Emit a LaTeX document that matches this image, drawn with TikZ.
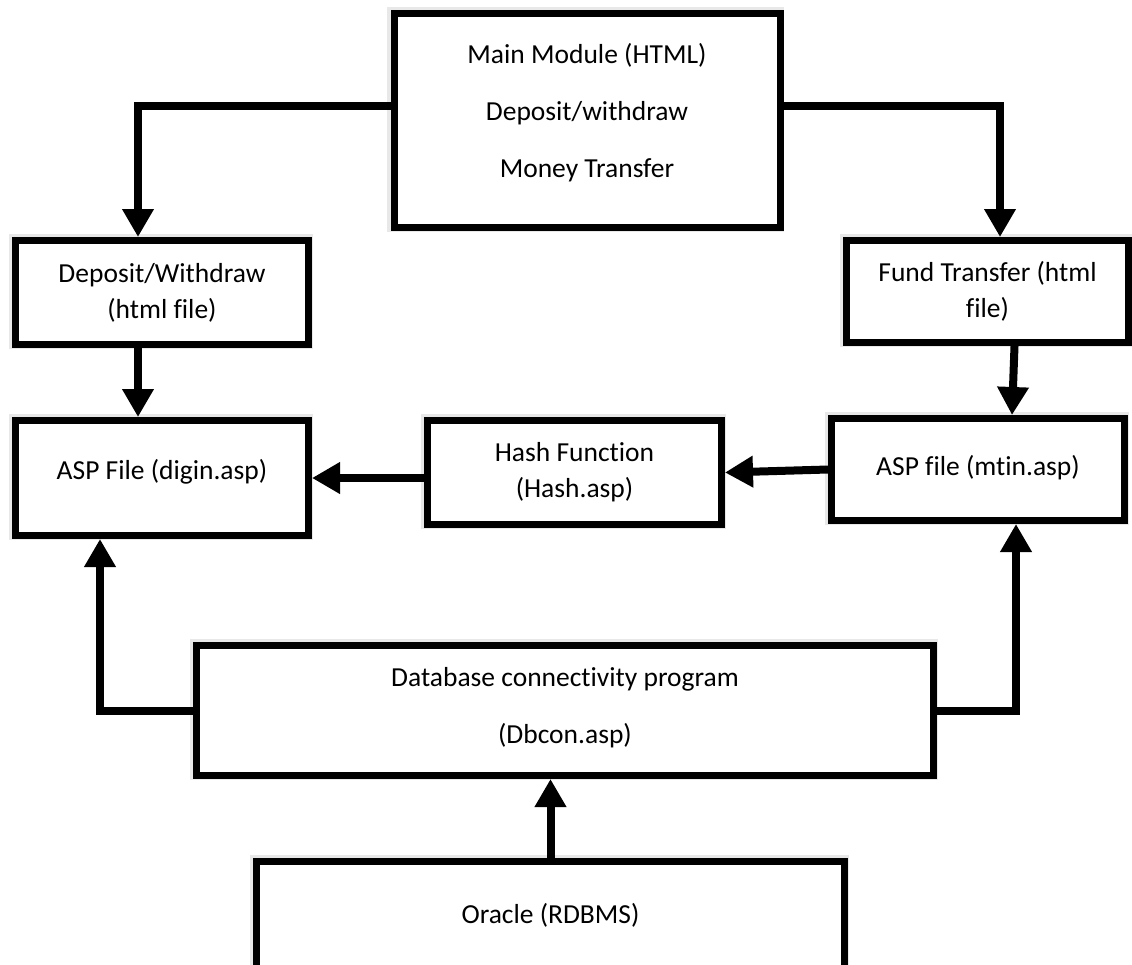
\documentclass[tikz,border=0pt]{standalone}
\usepackage{fontspec}
\setmainfont{Carlito}[RawFeature={-liga;-clig;-calt}]
\usepackage{tikz}
\usetikzlibrary{arrows.meta}
\usetikzlibrary{positioning}
\usetikzlibrary{shadows}
\tikzset{
  % big solid arrow heads
  >={Triangle[length=28pt,width=30pt]},
  % boxes and links
  box/.style={draw, rectangle, line width=7pt, fill=white, align=center,
    font=\fontsize{27.5}{36}\selectfont,
    general shadow={draw=black!9, line width=11pt, shadow xshift=-1.5pt, shadow yshift=1.5pt}},
  link/.style={draw, line width=8pt, ->}
}

\begin{document}
\begin{tikzpicture}[x=1pt, y=1pt]
    % page frame
    \clip (0,0) rectangle (1132,-964);

    % Place nodes
    \node [box, minimum width=386pt, minimum height=214pt, font=\fontsize{27.5}{57}\selectfont, text depth=21pt] (main) at (587,-120.5) {Main Module (HTML)\\Deposit/withdraw\\Money Transfer};
    \node [box, minimum width=293pt, minimum height=104pt] (deposit) at (162,-292.5) {Deposit/Withdraw\\(html file)};
    \node [box, minimum width=282pt, minimum height=102pt] (fund) at (987.5,-291.5) {Fund Transfer (html\\file)};
    \node [box, below of=deposit, node distance=185.5pt, minimum width=293pt, minimum height=115pt, text depth=17pt] (digin) {ASP File (digin.asp)};
    \node [box, right of=digin, node distance=412.5pt, yshift=5.5pt, minimum width=294pt, minimum height=104pt] (hash) {Hash Function\\(Hash.asp)};
    \node [box, minimum width=293pt, minimum height=102pt, text depth=9pt] (mtin) at (978,-469.5) {ASP file (mtin.asp)};
    \node [box, minimum width=737pt, minimum height=130pt, font=\fontsize{27.5}{57}\selectfont, text depth=11pt] (dbcon) at (565,-710.5) {Database connectivity program\\(Dbcon.asp)};
    \node [box, minimum width=588pt, minimum height=107pt] (oracle) at (550.5,-915) {Oracle (RDBMS)};

    % Draw edges
    \path [link] ([yshift=14.5pt]main.west) -| ([xshift=-24pt]deposit.north);
    \path [link] ([yshift=15pt]main.east) -| ([xshift=12.5pt]fund.north);
    \path [link] ([xshift=-24pt]deposit.south) -- ([xshift=-24pt]digin.north);
    \path [link] ([xshift=27pt]fund.south) -- ([xshift=34pt]mtin.north);
    \path [link] (mtin.west) -- (hash.east);
    \path [link] ([yshift=-5.5pt]hash.west) -- (digin.east);
    \path [link] (dbcon.west) -| ([xshift=-62pt]digin.south);
    \path [link] (dbcon.east) -| ([xshift=38pt]mtin.south);
    \path [link] (oracle.north) -- (oracle.north |- dbcon.south);

\end{tikzpicture}
\end{document}
